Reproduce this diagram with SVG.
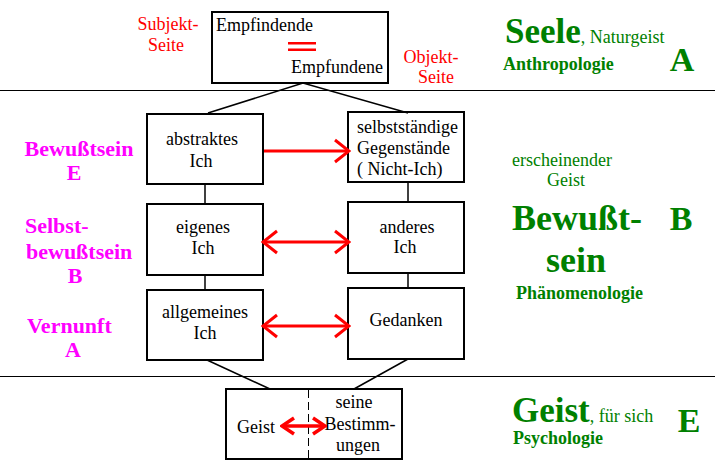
<svg xmlns="http://www.w3.org/2000/svg" width="715" height="466" viewBox="0 0 715 466">
<style>
.box{fill:#fff;stroke:#000;stroke-width:2}
.ln{stroke:#000;stroke-width:1.5;fill:none}
.t{font-family:"Liberation Serif","Times New Roman",serif;font-size:18px;fill:#000}
.r{font-family:"Liberation Serif","Times New Roman",serif;font-size:18px;fill:#f00}
.m{font-family:"Liberation Serif","Times New Roman",serif;font-size:22px;font-weight:bold;fill:#f0f}
.g{font-family:"Liberation Serif","Times New Roman",serif;fill:#008000}
.gb{font-weight:bold}
.c{text-anchor:middle}
.arr{stroke:#f00;stroke-width:3;fill:none}
.arrs{stroke:#f00;stroke-width:3.5;fill:none}
</style>
<defs>
<marker id="ah" viewBox="0 0 18 26" refX="16" refY="13" markerWidth="18" markerHeight="26" markerUnits="userSpaceOnUse" orient="auto-start-reverse">
<path d="M2,2 L16,13 L2,24" fill="none" stroke="#f00" stroke-width="3"/>
</marker>
<marker id="ahs" viewBox="0 0 16 20" refX="14" refY="10" markerWidth="16" markerHeight="20" markerUnits="userSpaceOnUse" orient="auto-start-reverse">
<path d="M2,2 L14,10 L2,18" fill="none" stroke="#f00" stroke-width="3.5"/>
</marker>
</defs>
<line x1="0" y1="90.5" x2="715" y2="90.5" stroke="#000" stroke-width="1"/>
<line x1="0" y1="376.5" x2="715" y2="376.5" stroke="#000" stroke-width="1"/>
<g id="node-seele-box">
<rect class="box" x="212" y="12" width="176" height="71"/>
<text class="t" x="216" y="31">Empfindende</text>
<rect x="288" y="42" width="28" height="2.5" fill="#f00"/>
<rect x="288" y="48.5" width="28" height="2.5" fill="#f00"/>
<text class="t" x="383" y="73" text-anchor="end">Empfundene</text>
</g>
<g id="label-subjekt">
<text class="r c" x="168" y="30">Subjekt-</text>
<text class="r c" x="166" y="51">Seite</text>
</g>
<g id="label-objekt">
<text class="r c" x="431" y="63">Objekt-</text>
<text class="r c" x="436" y="83">Seite</text>
</g>
<g id="node-abstraktes">
<rect class="box" x="147" y="114" width="116" height="70"/>
<text class="t c" x="202" y="145">abstraktes</text>
<text class="t c" x="201" y="167">Ich</text>
</g>
<g id="node-gegenstaende">
<rect class="box" x="348" y="112" width="116" height="70"/>
<text class="t" x="357" y="133">selbstständige</text>
<text class="t" x="357" y="154">Gegenstände</text>
<text class="t" x="357" y="175">( Nicht-Ich)</text>
</g>
<g id="node-eigenes">
<rect class="box" x="147" y="204" width="116" height="71"/>
<text class="t c" x="203" y="233">eigenes</text>
<text class="t c" x="203" y="254">Ich</text>
</g>
<g id="node-anderes">
<rect class="box" x="348" y="202" width="116" height="71"/>
<text class="t c" x="407" y="233">anderes</text>
<text class="t c" x="405" y="253">Ich</text>
</g>
<g id="node-allgemeines">
<rect class="box" x="147" y="290" width="116" height="70"/>
<text class="t c" x="205" y="318">allgemeines</text>
<text class="t c" x="205" y="339">Ich</text>
</g>
<g id="node-gedanken">
<rect class="box" x="348" y="288" width="116" height="71"/>
<text class="t c" x="406" y="326">Gedanken</text>
</g>
<g id="node-geist">
<rect class="box" x="226" y="389" width="176" height="70"/>
<line x1="308.5" y1="390" x2="308.5" y2="458" stroke="#000" stroke-width="1" stroke-dasharray="8,4"/>
<text class="t c" x="256" y="433">Geist</text>
<text class="t c" x="354" y="408" font-size="17">seine</text>
<text class="t c" x="360" y="430" font-size="17">Bestimm-</text>
<text class="t c" x="358" y="451" font-size="17">ungen</text>
</g>
<g id="labels-left">
<text class="m c" x="79" y="156">Bewußtsein</text>
<text class="m c" x="74" y="180">E</text>
<text class="m" x="25" y="233">Selbst-</text>
<text class="m" x="26" y="259">bewußtsein</text>
<text class="m c" x="75" y="283">B</text>
<text class="m" x="27" y="333">Vernunft</text>
<text class="m c" x="73" y="357">A</text>
</g>
<g id="labels-right">
<text class="g gb" x="505" y="43" font-size="35">Seele<tspan font-size="18" font-weight="normal">, Naturgeist</tspan></text>
<text class="g gb" x="503" y="70" font-size="18">Anthropologie</text>
<text class="g gb c" x="682" y="71" font-size="34">A</text>
<text class="g" x="512" y="166" font-size="18">erscheinender</text>
<text class="g c" x="566" y="186" font-size="18">Geist</text>
<text class="g gb" x="512" y="230" font-size="36">Bewußt-</text>
<text class="g gb c" x="681" y="230" font-size="34">B</text>
<text class="g gb c" x="576" y="272" font-size="36">sein</text>
<text class="g gb" x="516" y="299" font-size="18">Phänomenologie</text>
<text class="g gb" x="512" y="422" font-size="35">Geist<tspan font-size="18" font-weight="normal">, für sich</tspan></text>
<text class="g gb" x="513" y="444" font-size="18">Psychologie</text>
<text class="g gb c" x="689" y="432" font-size="34">E</text>
</g>
<g id="connectors">
<path class="ln" d="M208,113 L303,83 L408,113"/>
<line class="ln" x1="205" y1="184" x2="205" y2="204" stroke-width="2"/>
<line class="ln" x1="205" y1="275" x2="205" y2="290" stroke-width="2"/>
<line class="ln" x1="408" y1="182" x2="408" y2="202" stroke-width="2"/>
<line class="ln" x1="408" y1="273" x2="408" y2="288" stroke-width="2"/>
<path class="ln" d="M207,360 L270,389"/>
<path class="ln" d="M408,359 L354,389"/>
<line class="arr" x1="264" y1="151" x2="349" y2="151" marker-end="url(#ah)"/>
<line class="arr" x1="263" y1="242" x2="349" y2="242" marker-start="url(#ah)" marker-end="url(#ah)"/>
<line class="arr" x1="263" y1="326" x2="349" y2="326" marker-start="url(#ah)" marker-end="url(#ah)"/>
<line class="arrs" x1="282" y1="426" x2="325" y2="426" marker-start="url(#ahs)" marker-end="url(#ahs)"/>
</g>
</svg>
